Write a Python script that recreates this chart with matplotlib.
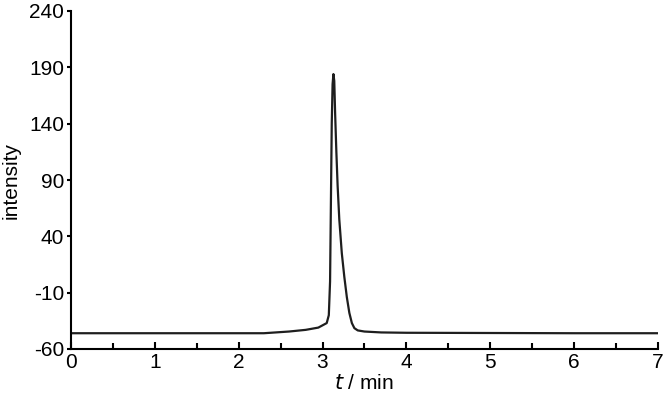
import matplotlib
matplotlib.use("Agg")
import matplotlib.pyplot as plt
from matplotlib.ticker import MultipleLocator

plt.rcParams['font.family'] = ['Liberation Sans', 'DejaVu Sans']
plt.rcParams['axes.unicode_minus'] = False

# chromatogram trace
t = [0.0, 1.0, 2.0, 2.3, 2.6, 2.8, 2.95, 3.05, 3.075, 3.09, 3.10, 3.11, 3.12, 3.13, 3.14,
     3.15, 3.165, 3.18, 3.20, 3.23, 3.26, 3.29, 3.32, 3.35, 3.38, 3.42, 3.5, 3.7, 4.0, 5.0, 6.0, 7.0]
intensity = [-46, -46, -46, -46, -44.5, -43, -41, -37, -30, 0, 70, 140, 175, 184, 178,
             150, 115, 85, 55, 25, 4, -14, -28, -37, -41.5, -43.5, -44.5, -45.3, -45.6, -45.8, -46, -46]

xticks = [0, 1, 2, 3, 4, 5, 6, 7]
yticks = [-60, -10, 40, 90, 140, 190, 240]

fig = plt.figure(figsize=(6.67, 4.0), dpi=100)
ax = fig.add_axes([0.1064, 0.1275, 0.88, 0.845])
ax.plot(t, intensity, color='#1e1e1e', lw=1.6)

ax.set_xlim(0, 7)
ax.set_ylim(-60, 240)
ax.set_xticks(xticks)
ax.set_yticks(yticks)
ax.xaxis.set_minor_locator(MultipleLocator(0.5))
ax.tick_params(axis='x', which='major', direction='in', length=5, width=1.5, labelsize=15, pad=3)
ax.tick_params(axis='x', which='minor', direction='in', length=4, width=1.5)
ax.tick_params(axis='y', which='major', direction='out', length=3, width=1.5, labelsize=15, pad=2)
for s in ['top', 'right']:
    ax.spines[s].set_visible(False)
for s in ['left', 'bottom']:
    ax.spines[s].set_linewidth(1.5)

ax.set_xlabel(r'$\it{t}$ / min', fontsize=15, labelpad=1)
ax.set_ylabel('intensity', fontsize=15, labelpad=6)

fig.savefig('out.png', dpi=100)
